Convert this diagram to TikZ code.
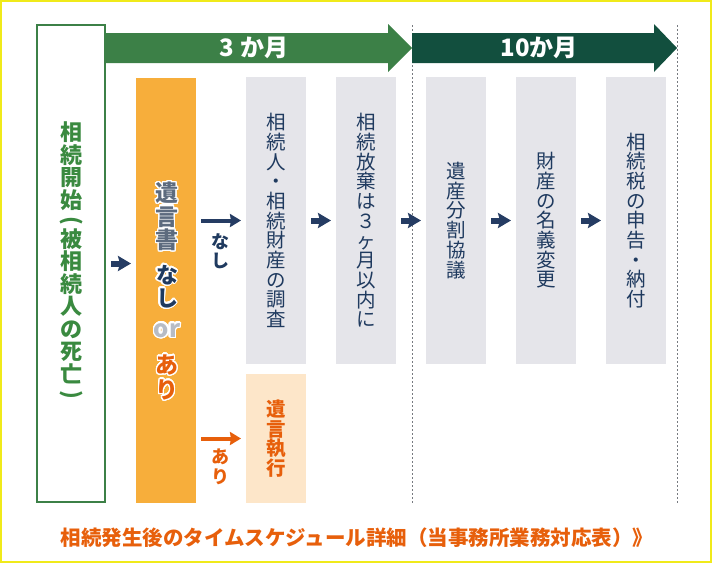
\documentclass[tikz,border=0pt]{standalone}
\usepackage{fontspec}
\setmainfont{Noto Sans CJK JP}
\usepackage{graphicx}
\usepackage[copies]{contour}
\contourlength{1.4pt}
\contournumber{24}
\usetikzlibrary{arrows.meta}
\definecolor{frameyellow}{HTML}{F0EA1A}
\definecolor{grn}{HTML}{3C8047}
\definecolor{grntext}{HTML}{3A8A40}
\definecolor{dkgrn}{HTML}{124F3E}
\definecolor{orangebox}{HTML}{F7AE3B}
\definecolor{lightorange}{HTML}{FDE6C9}
\definecolor{graybox}{HTML}{E5E5EA}
\definecolor{navy}{HTML}{253C63}
\definecolor{navytext}{HTML}{1F3A5F}
\definecolor{orangetext}{HTML}{E75F0B}
\definecolor{slate}{HTML}{5D6B7E}
\definecolor{orgray}{HTML}{B7BCC5}
\definecolor{dotgray}{HTML}{777A80}
\newcommand\oc[1]{\contour{white}{#1}}
\begin{document}
\begin{tikzpicture}[x=1pt,y=-1pt,
  fillbox/.style={inner sep=0pt, outer sep=0pt, minimum width=60pt},
  graystep/.style={fillbox, fill=graybox, minimum height=287pt},
  graytext/.style={font=\fontsize{19.5}{19.7}\selectfont, text=navytext, align=center, inner sep=0pt},
  navyarr/.style={draw=navy, line width=6pt, -{Stealth[length=13pt,width=15pt,inset=2pt]}, shorten <=5pt, shorten >=5pt},
  navythin/.style={draw=navy, line width=4pt, -{Stealth[length=11pt,width=13pt,inset=1pt]}, shorten <=5pt, shorten >=5pt},
  orangethin/.style={navythin, draw=orangetext},
  dotline/.style={draw=dotgray, line width=1pt, dash pattern=on 2pt off 2pt},
  periodtext/.style={font=\fontsize{24}{26}\selectfont\bfseries, text=white, inner sep=0pt}
]
\useasboundingbox (0,0) rectangle (712,563);
\draw[frameyellow, line width=2pt] (1,1) rectangle (711,562);

% dotted period boundaries
\coordinate (d1t) at (412,25); \coordinate (d1b) at (412,503);
\coordinate (d2t) at (677,25); \coordinate (d2b) at (677,503);
\draw[dotline] (d1t) -- (d1b);
\draw[dotline] (d2t) -- (d2b);

% period arrows
\fill[grn] (105,33) -- (388,33) -- (388,24) -- (412,48) -- (388,72) -- (388,63) -- (105,63) -- cycle;
\fill[dkgrn] (412,33) -- (654,33) -- (654,24) -- (677,48) -- (654,72) -- (654,63) -- (412,63) -- cycle;
\node[periodtext] (p1) at (254,48) {3 か月};
\node[periodtext] (p2) at (539,48) {10か月};

% start box
\node[draw=grn, line width=2pt, inner sep=0pt, minimum width=68pt, minimum height=477pt] (start) at (71,263.5) {};
\node[font=\fontsize{22}{22.5}\selectfont\bfseries, text=grntext, align=center, inner sep=0pt] (starttext) at (71,262)
  {相\\続\\開\\始\\[-3pt]\rotatebox[origin=c]{-90}{(}\\[-3pt]被\\相\\続\\人\\の\\死\\亡\\[-3pt]\rotatebox[origin=c]{-90}{)}};

% will box
\node[fillbox, fill=orangebox, minimum height=425pt] (will) at (166,290.5) {};
\node[font=\fontsize{23}{23.5}\selectfont\bfseries, text=slate, align=center, inner sep=0pt] (w1) at (167,217) {\oc{遺}\\\oc{言}\\\oc{書}};
\node[font=\fontsize{22}{23}\selectfont\bfseries, text=navytext, align=center, inner sep=0pt] (w2) at (167,287) {\oc{な}\\\oc{し}};
\node[font=\fontsize{24}{24}\selectfont\bfseries, text=orgray, inner sep=0pt] (w3) at (167,331) {\oc{or}};
\node[font=\fontsize{23}{25}\selectfont\bfseries, text=orangetext, align=center, inner sep=0pt] (w4) at (167,378) {\oc{あ}\\\oc{り}};

% gray steps
\node[graystep] (g1) at (276,220.5) {};
\node[graystep] (g2) at (366,220.5) {};
\node[graystep] (g3) at (456,220.5) {};
\node[graystep] (g4) at (546,220.5) {};
\node[graystep] (g5) at (636,220.5) {};
\node[graytext] (t1) at (g1) {相\\続\\人\\・\\相\\続\\財\\産\\の\\調\\査};
\node[graytext] (t2) at (g2) {相\\続\\放\\棄\\は\\３\\ヶ\\月\\以\\内\\に};
\node[graytext] (t3) at (g3) {遺\\産\\分\\割\\協\\議};
\node[graytext] (t4) at (g4) {財\\産\\の\\名\\義\\変\\更};
\node[graytext] (t5) at (g5) {相\\続\\税\\の\\申\\告\\・\\納\\付};

% execution box
\node[fillbox, fill=lightorange, minimum height=129pt] (exec) at (276,438.5) {};
\node[font=\fontsize{19.5}{19.7}\selectfont\bfseries, text=orangetext, align=center, inner sep=0pt] (exectext) at (exec) {遺\\言\\執\\行};

% connectors
\draw[navyarr] (start.east) -- (start.east -| will.west);
\draw[navyarr] (g1.east) -- (g2.west);
\draw[navyarr] (g2.east) -- (g3.west);
\draw[navyarr] (g3.east) -- (g4.west);
\draw[navyarr] (g4.east) -- (g5.west);
\draw[navythin] (will.east |- g1.west) -- (g1.west);
\draw[orangethin] (will.east |- exec.west) -- (exec.west);
\node[font=\fontsize{18}{19.5}\selectfont\bfseries, text=navytext, align=center, inner sep=0pt] (nashi) at (220,251) {な\\し};
\node[font=\fontsize{18}{19.5}\selectfont\bfseries, text=orangetext, align=center, inner sep=0pt] (ari) at (220,467) {あ\\り};

% caption
\node[font=\fontsize{20.5}{22}\selectfont\bfseries, text=orangetext, inner sep=0pt] (caption) at (357,538) {相続発生後のタイムスケジュール詳細（当事務所業務対応表）》};
\end{tikzpicture}
\end{document}
